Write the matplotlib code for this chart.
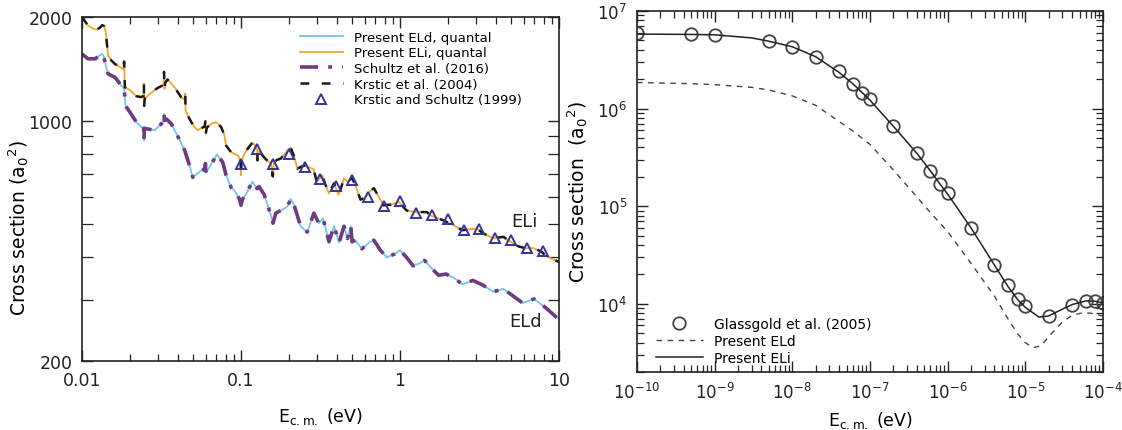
import matplotlib
matplotlib.use("Agg")
import matplotlib.pyplot as plt
from matplotlib.ticker import FixedLocator, NullFormatter, LogLocator

plt.rcParams['font.family'] = ['DejaVu Sans']
plt.rcParams['axes.unicode_minus'] = False

# ---- left panel: 0.01 - 10 eV ----
eli_E = [0.0100, 0.0109, 0.0117, 0.0124, 0.0130, 0.0134, 0.0138, 0.0141, 0.0146, 0.0153,
         0.0161, 0.0170, 0.0177, 0.0182, 0.0184, 0.0186, 0.0193, 0.0200, 0.0210, 0.0220,
         0.0236, 0.0244, 0.0245, 0.0246, 0.0248, 0.0254, 0.0270, 0.0286, 0.0300, 0.0316,
         0.0326, 0.0328, 0.0330, 0.0334, 0.0345, 0.0360, 0.0382, 0.0400, 0.0420, 0.0440,
         0.0446, 0.0448, 0.0460, 0.0474, 0.0490, 0.0510, 0.0535, 0.0560, 0.0590, 0.0597,
         0.0600, 0.0610, 0.0632, 0.0660, 0.0697, 0.0750, 0.0786, 0.0806, 0.0865, 0.0908,
         0.0960, 0.0995, 0.1000, 0.1005, 0.1050, 0.1100, 0.1181, 0.1240, 0.1264, 0.1270,
         0.1280, 0.1340, 0.1440, 0.1543, 0.1585, 0.1610, 0.1680, 0.1775, 0.1966, 0.2053,
         0.2150, 0.2264, 0.2400, 0.2500, 0.2680, 0.2852, 0.3000, 0.3239, 0.3400, 0.3576,
         0.3847, 0.4100, 0.4270, 0.4446, 0.4700, 0.4995, 0.5300, 0.5640, 0.6000, 0.6400,
         0.6848, 0.7520, 0.7866, 0.8800, 0.9800, 1.1000, 1.2400, 1.4800, 1.5500, 1.8700,
         2.1800, 2.4700, 2.7100, 3.0500, 3.3300, 3.8600, 4.4700, 4.9000, 5.5500, 6.0700,
         6.8500, 7.7700, 8.3000, 9.6400, 10.000]
eli_s = [2000, 1889, 1850, 1838, 1865, 1894, 1880, 1807, 1545, 1495,
         1461, 1440, 1420, 1410, 1484, 1250, 1238, 1226, 1200, 1177,
         1170, 1180, 1280, 1103, 1160, 1170, 1200, 1226, 1245, 1260,
         1270, 1385, 1237, 1290, 1316, 1290, 1250, 1210, 1170, 1150,
         1200, 1071, 1040, 1012, 985, 958, 937, 950, 960, 995,
         916, 955, 968, 982, 989, 958, 906, 846, 810, 800,
         790, 760, 693, 760, 800, 828, 863, 840, 820, 766,
         815, 800, 770, 750, 688, 755, 768, 775, 819, 834,
         790, 725, 735, 740, 730, 724, 664, 693, 650, 614,
         657, 609, 640, 679, 664, 682, 640, 589, 596, 618,
         636, 589, 567, 570, 580, 548, 542, 542, 530, 513,
         496, 480, 483, 485, 470, 455, 459, 446, 431, 426,
         426, 416, 403, 391, 388]

eld_E = [0.0100, 0.0109, 0.0121, 0.0133, 0.0137, 0.0141, 0.0146, 0.0161, 0.0177, 0.0184,
         0.0188, 0.0200, 0.0220, 0.0236, 0.0244, 0.0245, 0.0247, 0.0254, 0.0286, 0.0316,
         0.0326, 0.0328, 0.0330, 0.0340, 0.0364, 0.0400, 0.0442, 0.0474, 0.0497, 0.0547,
         0.0595, 0.0597, 0.0600, 0.0617, 0.0707, 0.0767, 0.0806, 0.0865, 0.0908, 0.0976,
         0.1000, 0.1020, 0.1070, 0.1180, 0.1264, 0.1300, 0.1399, 0.1543, 0.1590, 0.1655,
         0.1863, 0.1966, 0.2053, 0.2161, 0.2371, 0.2609, 0.2872, 0.3088, 0.3284, 0.3576,
         0.3847, 0.4135, 0.4446, 0.4667, 0.4904, 0.4995, 0.5235, 0.5756, 0.6508, 0.6850,
         0.7520, 0.8275, 0.9300, 1.0000, 1.1000, 1.2100, 1.3200, 1.4300, 1.5800, 1.7500,
         1.9500, 2.2000, 2.4700, 2.8700, 3.3000, 3.8600, 4.4700, 5.1000, 5.9000, 6.9800,
         8.3000, 9.6400, 10.000]
eld_s = [1562, 1512, 1512, 1562, 1540, 1445, 1367, 1336, 1263, 1237,
         1103, 1058, 989, 958, 955, 876, 950, 947, 937, 979,
         1000, 1046, 1000, 1010, 979, 901, 820, 740, 684, 709,
         725, 750, 712, 718, 797, 757, 694, 640, 627, 592,
         567, 590, 609, 664, 634, 643, 609, 530, 503, 538,
         554, 564, 592, 567, 493, 474, 538, 503, 519, 444,
         493, 442, 493, 454, 493, 444, 449, 424, 444, 449,
         420, 400, 410, 420, 400, 378, 384, 392, 372, 355,
         358, 348, 334, 343, 333, 318, 324, 310, 295, 303,
         285, 268, 265]

# earlier calculations lie on top of the present curves
schultz_E, schultz_s = eld_E, eld_s
krstic_E, krstic_s = eli_E, eli_s

ks_E = [0.100, 0.126, 0.158, 0.200, 0.251, 0.316, 0.398, 0.501, 0.631, 0.794,
        1.00, 1.26, 1.58, 2.00, 2.51, 3.16, 3.98, 5.01, 6.31, 7.94]
ks_s = [750, 828, 746, 802, 735, 678, 647, 673, 598, 566,
        582, 538, 530, 518, 480, 485, 455, 450, 426, 418]

# ---- right panel: ultracold ----
eli_lo_E = [1e-10, 5e-10, 1e-9, 3e-9, 5e-9, 1e-8, 2e-8, 4e-8, 6e-8, 8e-8,
            1e-7, 2e-7, 4e-7, 6e-7, 8e-7, 1e-6, 2e-6, 4e-6, 6e-6, 8e-6,
            1e-5, 1.5e-5, 2e-5, 3e-5, 4e-5, 6e-5, 8e-5, 1e-4]
eli_lo_s = [5.8e6, 5.75e6, 5.7e6, 5.3e6, 4.9e6, 4.3e6, 3.4e6, 2.35e6, 1.8e6, 1.45e6,
            1.22e6, 6.6e5, 3.5e5, 2.3e5, 1.68e5, 1.33e5, 6.0e4, 2.5e4, 1.5e4, 1.1e4,
            9.2e3, 7.3e3, 7.5e3, 8.8e3, 9.8e3, 1.07e4, 1.06e4, 1.02e4]

eld_lo_E = [1e-10, 5e-10, 1e-9, 3e-9, 5e-9, 1e-8, 2e-8, 4e-8, 6e-8, 1e-7,
            2e-7, 4e-7, 6e-7, 1e-6, 2e-6, 4e-6, 6e-6, 8e-6, 1e-5, 1.25e-5,
            1.6e-5, 2e-5, 3e-5, 4e-5, 5.5e-5, 7e-5, 1e-4]
eld_lo_s = [1.85e6, 1.8e6, 1.76e6, 1.65e6, 1.55e6, 1.35e6, 1.08e6, 7.4e5, 5.9e5, 4.3e5,
            2.35e5, 1.25e5, 8.6e4, 5.5e4, 2.6e4, 1.2e4, 7.0e3, 4.9e3, 4.0e3, 3.55e3,
            3.7e3, 4.6e3, 6.5e3, 7.6e3, 8.1e3, 8.0e3, 7.5e3]

gg_E = [1e-10, 5e-10, 1e-9, 5e-9, 1e-8, 2e-8, 4e-8, 6e-8, 8e-8, 1e-7,
        2e-7, 4e-7, 6e-7, 8e-7, 1e-6, 2e-6, 4e-6, 6e-6, 8e-6, 1e-5,
        2e-5, 4e-5, 6e-5, 8e-5, 1e-4]
gg_s = [6.0e6, 5.8e6, 5.7e6, 4.9e6, 4.3e6, 3.4e6, 2.4e6, 1.8e6, 1.46e6, 1.24e6,
        6.7e5, 3.5e5, 2.3e5, 1.69e5, 1.35e5, 6.0e4, 2.5e4, 1.54e4, 1.13e4, 9.5e3,
        7.5e3, 9.8e3, 1.08e4, 1.06e4, 1.02e4]

fig = plt.figure(figsize=(11.22, 4.31), dpi=100)
ax1 = fig.add_axes([0.0731, 0.1601, 0.4251, 0.7981])
ax2 = fig.add_axes([0.5677, 0.1346, 0.4153, 0.8376])

# left
ax1.plot(eld_E, eld_s, color='#72c6ee', lw=1.3, label='Present ELd, quantal')
ax1.plot(eli_E, eli_s, color='#f0a82a', lw=1.3, label='Present ELi, quantal')
ax1.plot(schultz_E, schultz_s, color='#6f3b80', lw=2.6,
         linestyle=(0, (5, 2.8, 1.1, 2.8)), label='Schultz et al. (2016)')
ax1.plot(krstic_E, krstic_s, color='#1a1a1a', lw=1.8,
         linestyle=(0, (3.5, 5)), label='Krstic et al. (2004)')
ax1.plot(ks_E, ks_s, linestyle='none', marker='^', ms=7, mfc='none',
         mec='#34349c', mew=1.4, label='Krstic and Schultz (1999)')

ax1.set_xscale('log')
ax1.set_yscale('log')
ax1.set_xlim(0.01, 10)
ax1.set_ylim(200, 2000)
ax1.xaxis.set_major_locator(FixedLocator([0.01, 0.1, 1, 10]))
ax1.set_xticklabels(['0.01', '0.1', '1', '10'])
ax1.xaxis.set_minor_locator(LogLocator(base=10, subs=range(2, 10)))
ax1.xaxis.set_minor_formatter(NullFormatter())
ax1.yaxis.set_major_locator(FixedLocator([200, 1000, 2000]))
ax1.set_yticklabels(['200', '1000', '2000'])
ax1.yaxis.set_minor_locator(FixedLocator([300, 400, 500, 600, 700, 800, 900]))
ax1.yaxis.set_minor_formatter(NullFormatter())
ax1.text(6.1, 509, 'ELi', fontsize=13, ha='center', va='center', color='#222')
ax1.text(6.2, 262, 'ELd', fontsize=13, ha='center', va='center', color='#222')
ax1.set_xlabel(r'E$_{\mathrm{c.m.}}$ (eV)', fontsize=12.5, labelpad=12)
ax1.set_ylabel(r'Cross section (a$_0$$^2$)', fontsize=13.5)
ax1.yaxis.set_label_coords(-0.108, 0.39)
ax1.legend(loc='upper left', bbox_to_anchor=(0.456, 0.96), frameon=False,
           fontsize=9.5, handlelength=3.3, handletextpad=0.8, labelspacing=0.2,
           borderpad=0, borderaxespad=0)

# right
ax2.plot(gg_E, gg_s, linestyle='none', marker='o', ms=9, mfc='none',
         mec='#444444', mew=1.3, label='Glassgold et al. (2005)')
ax2.plot(eld_lo_E, eld_lo_s, color='#444444', lw=1.0, linestyle=(0, (4, 4)),
         label='Present ELd')
ax2.plot(eli_lo_E, eli_lo_s, color='#222222', lw=1.1, label='Present ELi')
ax2.set_xscale('log')
ax2.set_yscale('log')
ax2.set_xlim(1e-10, 1e-4)
ax2.set_ylim(2000, 1e7)
ax2.xaxis.set_major_locator(LogLocator(base=10, numticks=10))
ax2.xaxis.set_minor_locator(LogLocator(base=10, subs=range(2, 10), numticks=100))
ax2.xaxis.set_minor_formatter(NullFormatter())
ax2.yaxis.set_minor_locator(LogLocator(base=10, subs=range(2, 10), numticks=100))
ax2.yaxis.set_minor_formatter(NullFormatter())
ax2.set_xlabel(r'E$_{\mathrm{c.m.}}$ (eV)', fontsize=12.5, labelpad=5)
ax2.set_ylabel(r'Cross section  (a$_0$$^2$)', fontsize=13.5)
ax2.yaxis.set_label_coords(-0.10, 0.5)
ax2.legend(loc='lower left', bbox_to_anchor=(0.04, 0.02), frameon=False,
           fontsize=10, handlelength=3.4, handletextpad=0.8, labelspacing=0.2,
           borderpad=0, borderaxespad=0)

for ax in (ax1, ax2):
    for sp in ax.spines.values():
        sp.set_linewidth(1.2)
        sp.set_color('#222222')
    ax.tick_params(which='both', direction='in', top=True, right=True,
                   labelsize=12.5, colors='#222222')
    ax.tick_params(which='major', length=8, width=1.0, pad=7)
    ax.tick_params(which='minor', length=5, width=0.9)
ax1.tick_params(axis='y', which='minor', length=8)
ax2.tick_params(labelsize=12)

fig.savefig('out.png', dpi=100)
